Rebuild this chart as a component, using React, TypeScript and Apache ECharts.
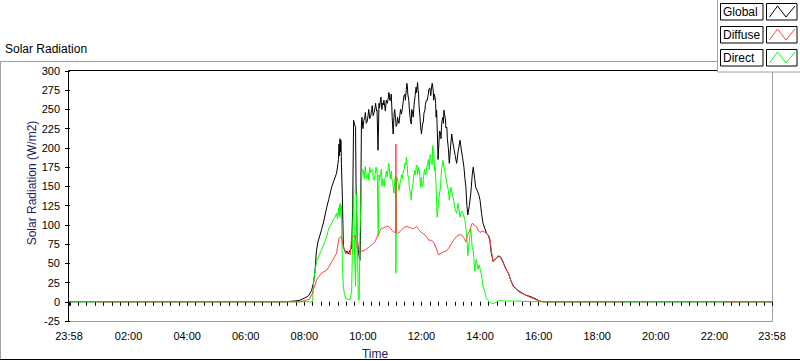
import React, { useEffect, useRef } from 'react';
import * as echarts from 'echarts';

// Time is in minutes after midnight; the axis runs 23:58 (-2) to 23:58 (1438).
const globalSeries: [number, number][] = [
  [-2, 0], [440, 0], [461, 1], [471, 2], [481, 5], [489, 8], [495, 15], [499, 25], [502, 41], [505, 67],
  [508, 78], [515, 93], [520, 105], [526, 123], [530, 133], [536, 149], [541, 158], [546, 167], [549, 180],
  [550, 185], [551, 205], [552, 190], [553, 212], [554, 195], [555, 210], [556, 180], [558, 136], [560, 72],
  [562, 68], [565, 63], [567, 66], [570, 62], [573, 66], [577, 70], [579, 120], [581, 236], [583, 230],
  [585, 227], [586, 150], [588, 90], [590, 72], [592, 60], [594, 54], [595, 80], [597, 231], [598, 240],
  [600, 225], [602, 236], [604, 240], [605, 246], [607, 232], [609, 235], [611, 244], [612, 250], [614, 238],
  [616, 242], [618, 249], [619, 255], [621, 242], [623, 246], [625, 253], [626, 258], [628, 248], [629, 249],
  [631, 197], [633, 258], [634, 252], [636, 262], [637, 266], [639, 250], [640, 258], [642, 256], [643, 262],
  [645, 253], [646, 248], [648, 262], [650, 258], [652, 265], [653, 272], [654, 270], [655, 262], [657, 262],
  [658, 270], [659, 257], [660, 240], [662, 218], [663, 232], [664, 244], [665, 250], [667, 238], [668, 228],
  [670, 231], [671, 240], [672, 236], [674, 232], [676, 244], [677, 250], [679, 244], [681, 252], [683, 262],
  [684, 268], [686, 270], [687, 262], [689, 276], [690, 284], [691, 281], [692, 270], [694, 262], [695, 252],
  [696, 244], [697, 238], [699, 231], [700, 250], [702, 245], [703, 240], [705, 257], [707, 268], [709, 279],
  [710, 272], [712, 285], [713, 276], [714, 270], [715, 255], [717, 240], [718, 228], [720, 218], [722, 230],
  [724, 235], [725, 245], [727, 249], [728, 256], [730, 262], [732, 262], [734, 270], [735, 276], [737, 278],
  [739, 268], [741, 281], [742, 284], [744, 275], [745, 262], [746, 270], [748, 265], [749, 258], [750, 240],
  [751, 249], [752, 230], [754, 185], [756, 210], [757, 222], [759, 220], [760, 212], [761, 227], [762, 235],
  [764, 240], [765, 232], [766, 249], [767, 244], [769, 238], [770, 226], [772, 227], [773, 212], [775, 200],
  [777, 180], [780, 205], [782, 218], [784, 208], [786, 201], [789, 190], [792, 180], [795, 195], [799, 210],
  [802, 196], [804, 188], [807, 175], [809, 160], [811, 149], [813, 125], [815, 113], [818, 125], [821, 141],
  [824, 165], [826, 175], [829, 160], [831, 149], [834, 145], [838, 138], [840, 132], [843, 115], [846, 102],
  [850, 95], [853, 89], [857, 86], [860, 80], [863, 63], [867, 52], [870, 55], [874, 57], [877, 59], [881, 59],
  [884, 56], [887, 52], [892, 44], [898, 37], [903, 28], [908, 20], [915, 16], [922, 13], [932, 9], [942, 7],
  [950, 5], [956, 3], [962, 1], [969, 0], [1438, 0],
];

const diffuseSeries: [number, number | null][] = [
  [58, 0], [470, 0], [490, 3], [496, 10], [498, 15], [502, 22], [505, 28], [510, 33], [515, 37], [520, 39],
  [526, 41], [531, 46], [536, 52], [541, 57], [546, 63], [549, 75], [551, 82], [555, 85], [558, 78], [560, 72],
  [565, 63], [570, 65], [574, 61], [577, 85], [581, 84], [584, 87], [587, 72], [590, 68], [594, 65], [598, 66],
  [604, 67], [610, 70], [614, 72], [620, 75], [625, 78], [630, 86], [633, 89], [637, 95], [642, 96], [648, 98],
  [652, 98], [656, 96], [659, 93], [663, 91], [667, 90], [667.6, 205], [668.4, 90], [672, 89], [676, 91],
  [679, 93], [683, 96], [686, 97], [690, 98], [694, 97], [698, 96], [702, 95], [706, 96], [710, 98], [714, 94],
  [718, 91], [722, 89], [727, 87], [731, 84], [735, 80], [741, 80], [746, 76], [750, 70], [755, 61], [760, 63],
  [765, 65], [771, 66], [776, 70], [781, 75], [786, 80], [792, 85], [797, 87], [802, 87], [806, 84], [811, 78],
  [814, 86], [820, 95], [824, 102], [828, 100], [833, 98], [836, 93], [840, 90], [844, 92], [848, 91], [853, 89],
  [857, 87], [860, 82], [864, 63], [867, 52], [870, 55], [874, 57], [877, 60], [881, 58], [884, 55], [887, 51],
  [892, 44], [898, 37], [903, 28], [908, 21], [915, 16], [922, 12], [932, 9], [942, 6], [950, 4], [956, 2],
  [962, 1], [969, 0], [1132, 0], [1133, null], [1172, 0], [1183, 0], [1184, null], [1270, 0], [1273, 0],
  [1274, null], [1312, 0], [1316, 0], [1317, null], [1338, 0], [1438, 0],
];

const directSeries: [number, number][] = [
  [-2, 0], [495, 0], [497, 2], [499, 25], [502, 41], [505, 52], [510, 60], [515, 67], [522, 78], [526, 85],
  [529, 93], [532, 98], [536, 102], [539, 106], [543, 110], [546, 115], [548, 108], [550, 122], [551, 112],
  [552, 126], [553, 110], [554, 128], [555, 118], [556, 125], [557, 80], [558, 46], [560, 20], [562, 11],
  [565, 4], [570, 3], [574, 3], [577, 15], [579, 85], [581, 150], [583, 60], [585, 20], [587, 140], [589, 72],
  [590.5, 2], [592.5, 3], [594, 90], [595.5, 119], [597.4, 160], [598.7, 171], [600, 172], [602, 165],
  [603, 160], [604, 171], [605, 176], [607, 160], [609, 165], [611, 167], [612, 158], [614, 175], [616, 168],
  [618, 171], [620, 172], [621, 160], [623, 158], [625, 165], [627, 175], [628, 170], [629.4, 167], [631.4, 85],
  [633, 165], [634, 158], [636, 167], [638, 172], [639, 150], [641, 160], [642, 154], [644, 150], [645, 160],
  [647, 165], [648, 170], [650, 162], [652, 175], [653, 180], [654, 175], [656, 160], [657, 165], [658, 170],
  [659, 159], [661, 158], [662, 150], [663.6, 141], [665.6, 160], [667, 163], [667.6, 37], [668.4, 163],
  [671, 160], [672, 154], [674, 145], [676, 154], [678, 160], [679, 165], [681, 160], [683, 171], [685, 172],
  [686, 180], [688, 178], [689, 188], [691, 175], [692, 165], [694, 159], [696, 145], [698, 140], [699, 132],
  [700, 145], [702, 150], [704, 162], [706, 171], [708, 165], [709, 175], [711, 178], [712, 165], [714, 175],
  [716, 170], [717, 160], [718, 149], [720, 162], [721, 150], [723, 150], [724, 159], [726, 172], [727, 168],
  [729, 165], [731, 175], [733, 180], [734, 185], [736, 172], [737, 188], [739, 192], [740, 180], [742, 178],
  [743, 203], [745, 195], [746, 185], [747, 170], [748, 175], [750, 150], [752, 110], [756, 135], [759, 150],
  [761, 171], [764, 184], [766, 175], [769, 165], [772, 154], [775, 145], [777, 132], [780, 149], [783, 140],
  [786, 132], [789, 120], [792, 115], [795, 128], [799, 110], [802, 118], [805, 115], [809, 106], [812, 90],
  [815, 60], [818, 80], [821, 95], [824, 70], [826, 67], [829, 40], [832, 55], [836, 42], [838, 48], [843, 35],
  [846, 20], [850, 12], [853, 4], [857, 2], [860, -1], [864, -2], [868, -2], [872, -1], [877, 1], [882, 2],
  [888, 1], [896, 1], [905, 1], [915, 1], [930, 0.5], [945, 0.3], [960, 0], [1438, 0],
];

const xMin = -2;
const xMax = 1438;
const xLabelValues = [-2, 120, 240, 360, 480, 600, 720, 840, 960, 1080, 1200, 1320, 1438];
const minorPerMajor = 7;
const legendNames = ['Global', 'Diffuse', 'Direct'];
const legendColors = ['#000000', '#ff4040', '#00ff00'];

const FONT = "'Liberation Sans', Arial, sans-serif";

function fmtTime(v: number): string {
  if (v <= xMin || v >= xMax) return '23:58';
  const h = Math.round(v / 60);
  return String(h).padStart(2, '0') + ':00';
}

export default function App() {
  const ref = useRef<HTMLDivElement>(null);
  useEffect(() => {
    document.body.style.margin = '0';
    const chart = echarts.init(ref.current!, null, { renderer: 'svg' });

    const tickValues: number[] = [xMin];
    const step = 120 / minorPerMajor;
    for (let k = 0; k * step <= xMax; k++) tickValues.push(k * step);
    tickValues.push(xMax);

    const graphics: any[] = [];
    // outer frame
    graphics.push({ type: 'line', shape: { x1: 0, y1: 61.5, x2: 717, y2: 61.5 }, style: { stroke: '#a0a0a0', lineWidth: 1 } });
    graphics.push({ type: 'line', shape: { x1: 0.5, y1: 61, x2: 0.5, y2: 360 }, style: { stroke: '#a0a0a0', lineWidth: 1 } });
    graphics.push({ type: 'line', shape: { x1: 0, y1: 359.5, x2: 800, y2: 359.5 }, style: { stroke: '#000', lineWidth: 1 } });
    // plot frame
    graphics.push({ type: 'line', shape: { x1: 68.5, y1: 70.5, x2: 772, y2: 70.5 }, style: { stroke: '#000', lineWidth: 1 } });
    graphics.push({ type: 'line', shape: { x1: 68.5, y1: 70.5, x2: 68.5, y2: 322 }, style: { stroke: '#000', lineWidth: 1 } });
    graphics.push({ type: 'line', shape: { x1: 772.5, y1: 71, x2: 772.5, y2: 322 }, style: { stroke: '#a0a0a0', lineWidth: 1 } });
    graphics.push({ type: 'line', shape: { x1: 69, y1: 321.5, x2: 773, y2: 321.5 }, style: { stroke: '#a0a0a0', lineWidth: 1 } });
    // title
    graphics.push({ type: 'text', x: 5, y: 49, style: { text: 'Solar Radiation', font: `12px ${FONT}`, fill: '#000', textVerticalAlign: 'middle', verticalAlign: 'middle' } });
    // axis names
    graphics.push({ type: 'text', x: 32, y: 183, rotation: Math.PI / 2, style: { text: 'Solar Radiation (W/m2)', font: `12px ${FONT}`, fill: '#1c1c66', textAlign: 'center', align: 'center', textVerticalAlign: 'middle', verticalAlign: 'middle' } });
    graphics.push({ type: 'text', x: 375, y: 354, style: { text: 'Time', font: `12px ${FONT}`, fill: '#1c1c66', textAlign: 'center', align: 'center', textVerticalAlign: 'middle', verticalAlign: 'middle' } });
    // legend panel
    graphics.push({ type: 'rect', z: 100, shape: { x: 717.5, y: -2, width: 90, height: 74 }, style: { fill: '#ffffff', stroke: '#a0a0a0', lineWidth: 1 } });
    legendNames.forEach((name, i) => {
      const y0 = 3.5 + i * 23;
      graphics.push({ type: 'rect', z: 101, shape: { x: 720.5, y: y0, width: 42.5, height: 16.5 }, style: { fill: '#fff', stroke: '#000', lineWidth: 1 } });
      graphics.push({ type: 'rect', z: 101, shape: { x: 766.5, y: y0, width: 30.5, height: 16.5 }, style: { fill: '#fff', stroke: '#000', lineWidth: 1 } });
      graphics.push({ type: 'text', z: 102, x: 723, y: y0 + 8.5, style: { text: name, font: `12px ${FONT}`, fill: '#000', textVerticalAlign: 'middle', verticalAlign: 'middle' } });
      graphics.push({ type: 'polyline', z: 102, shape: { points: [[769.5, y0 + 13.5], [777.5, y0 + 2.5], [786, y0 + 13.5], [795, y0 + 2.5]] }, style: { stroke: legendColors[i], lineWidth: 1, fill: null } });
    });

    const mkSeries = (name: string, data: any[], color: string) => ({
      name, type: 'line', data, showSymbol: false, symbol: 'none', connectNulls: false,
      lineStyle: { color, width: 1 }, itemStyle: { color }, emphasis: { disabled: true }, silent: true,
    });

    chart.setOption({
      animation: false,
      backgroundColor: '#ffffff',
      grid: { left: 69, right: 28, top: 71, bottom: 40, containLabel: false, show: true, backgroundColor: '#ffffff', borderWidth: 0 },
      xAxis: {
        type: 'value', min: xMin, max: xMax, offset: 2,
        axisLine: { show: false },
        axisTick: { show: true, length: 4, customValues: tickValues, lineStyle: { color: '#000', width: 1 } },
        axisLabel: { show: true, customValues: xLabelValues, margin: 7, color: '#000', fontSize: 11, fontFamily: FONT, formatter: (v: number) => fmtTime(v) },
        splitLine: { show: false },
      },
      yAxis: {
        type: 'value', min: -25, max: 300, interval: 25, offset: 2,
        axisLine: { show: false },
        axisTick: { show: true, length: 5, lineStyle: { color: '#000', width: 1 } },
        axisLabel: { margin: 7, color: '#000', fontSize: 11, fontFamily: FONT },
        splitLine: { show: false },
      },
      series: [
        mkSeries('Global', globalSeries, legendColors[0]),
        mkSeries('Direct', directSeries, legendColors[2]),
        mkSeries('Diffuse', diffuseSeries, legendColors[1]),
      ],
      graphic: { elements: graphics },
    });
    return () => chart.dispose();
  }, []);
  return <div ref={ref} style={{ position: 'absolute', left: 0, top: 0, width: 800, height: 361, background: '#fff' }} />;
}
